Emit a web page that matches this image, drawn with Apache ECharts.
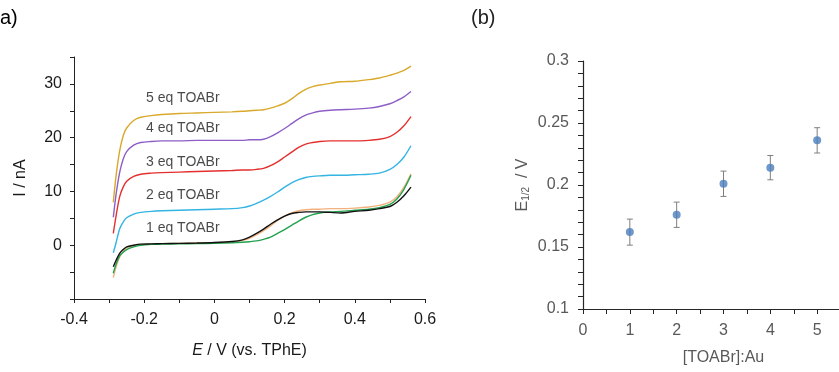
<!DOCTYPE html>
<html>
<head>
<meta charset="utf-8">
<script src="https://cdn.jsdelivr.net/npm/echarts@6/dist/echarts.min.js"></script>
<style>
html, body { margin: 0; padding: 0; background: #fff; }
#main { width: 839px; height: 372px; }
</style>
</head>
<body>
<div id="main"></div>
<script>
// panel a) potential axis (V vs. TPhE)
var potential = [-0.288, -0.28, -0.27, -0.26, -0.25, -0.23, -0.21, -0.18, -0.15, -0.1, -0.05, 0, 0.05, 0.08, 0.1, 0.12, 0.14, 0.16, 0.18, 0.2, 0.22, 0.24, 0.26, 0.28, 0.3, 0.33, 0.36, 0.4, 0.44, 0.47, 0.5, 0.52, 0.54, 0.56];

// currents in nA
var eq5 = [8.0, 13, 17.5, 20.3, 21.8, 23.2, 23.8, 24.1, 24.3, 24.5, 24.6, 24.7, 24.8, 24.9, 25.0, 25.1, 25.2, 25.5, 25.9, 26.4, 27.2, 28.2, 29.0, 29.5, 29.8, 30.1, 30.4, 30.5, 30.8, 31.1, 31.6, 32.0, 32.5, 33.3];
var eq4 = [5.2, 9.5, 13.5, 16.0, 17.4, 18.6, 19.1, 19.3, 19.4, 19.4, 19.5, 19.5, 19.5, 19.5, 19.6, 19.6, 19.7, 20.2, 20.9, 21.7, 22.6, 23.5, 24.2, 24.6, 24.9, 25.1, 25.2, 25.3, 25.5, 25.8, 26.3, 26.9, 27.6, 28.6];
var eq3 = [2.2, 5.5, 9.0, 10.8, 11.9, 12.8, 13.2, 13.4, 13.5, 13.6, 13.7, 13.8, 13.9, 14.0, 14.0, 14.1, 14.3, 14.8, 15.5, 16.4, 17.3, 18.2, 18.8, 19.1, 19.3, 19.4, 19.4, 19.4, 19.5, 19.7, 20.2, 21.0, 22.2, 23.9];
var eq2 = [-1.4, 0.5, 3.0, 4.3, 5.1, 5.8, 6.1, 6.3, 6.4, 6.5, 6.6, 6.7, 6.8, 7.0, 7.3, 7.8, 8.4, 9.1, 9.9, 10.8, 11.6, 12.2, 12.6, 12.8, 12.9, 13.0, 13.0, 13.1, 13.2, 13.4, 14.1, 15.0, 16.4, 18.5];
var eq1Black = [-4.0, -2.8, -1.5, -0.8, -0.3, 0.0, 0.2, 0.25, 0.3, 0.35, 0.4, 0.5, 0.7, 1.0, 1.5, 2.2, 3.0, 3.9, 4.7, 5.4, 5.9, 6.1, 6.2, 6.2, 6.2, 6.1, 6.0, 6.3, 6.5, 6.8, 7.2, 8.0, 9.2, 10.8];
var eq1Orange = [-6.0, -4.0, -2.2, -1.2, -0.5, -0.1, 0.1, 0.2, 0.3, 0.35, 0.4, 0.45, 0.6, 0.9, 1.3, 1.9, 2.7, 3.6, 4.6, 5.4, 6.0, 6.4, 6.6, 6.7, 6.7, 6.8, 6.8, 6.9, 7.1, 7.4, 8.0, 9.0, 10.8, 13.3];
var eq1Green = [-5.2, -3.5, -2.0, -1.3, -0.8, -0.3, 0.0, 0.15, 0.2, 0.25, 0.3, 0.35, 0.45, 0.55, 0.65, 0.8, 1.1, 1.5, 2.2, 2.9, 3.7, 4.5, 5.2, 5.7, 6.0, 6.2, 6.3, 6.5, 6.7, 7.0, 7.6, 8.6, 10.4, 13.0];

// curve labels
var curveLabels = ['5 eq TOABr', '4 eq TOABr', '3 eq TOABr', '2 eq TOABr', '1 eq TOABr'];
var labelX = [-0.195, -0.195, -0.195, -0.195, -0.195];
var labelY = [27.3, 21.7, 15.4, 9.3, 3.1];

// panel (b)
var ratio = [1, 2, 3, 4, 5];
var e12 = [0.162, 0.176, 0.201, 0.214, 0.236];
var e12Err = [0.0105, 0.0102, 0.0102, 0.0098, 0.0102];

function pairs(xs, ys) {
    var out = [];
    for (var i = 0; i < xs.length; i++) out.push([xs[i], ys[i]]);
    return out;
}

function curve(name, ys, color) {
    return {
        name: name,
        type: 'line',
        xAxisIndex: 0,
        yAxisIndex: 0,
        data: pairs(potential, ys),
        smooth: 0.3,
        showSymbol: false,
        symbol: 'none',
        lineStyle: { color: color, width: 1.4 },
        silent: true
    };
}

var labelData = [];
for (var i = 0; i < curveLabels.length; i++) {
    labelData.push({ value: [labelX[i], labelY[i]], name: curveLabels[i] });
}

var errData = [];
for (var j = 0; j < ratio.length; j++) {
    errData.push([ratio[j], e12[j], e12Err[j]]);
}

var textA = '#1a1a1a';
var textB = '#595959';

var myChart = echarts.init(document.getElementById('main'));
myChart.setOption({
    animation: false,
    backgroundColor: '#fff',
    title: [
        { text: 'a)', left: -5, top: 3, textStyle: { fontFamily: 'Liberation Sans', fontSize: 20, fontWeight: 'normal', color: '#000' } },
        { text: '(b)', left: 466, top: 3, textStyle: { fontFamily: 'Liberation Sans', fontSize: 20, fontWeight: 'normal', color: '#222' } }
    ],
    grid: [
        { left: 74, top: 57, width: 351, height: 242, outerBoundsMode: 'none', containLabel: false },
        { left: 583, top: 61, width: 281, height: 248, outerBoundsMode: 'none', containLabel: false }
    ],
    xAxis: [
        {
            gridIndex: 0, type: 'value', min: -0.4, max: 0.6, interval: 0.1,
            name: '{i|E} / V (vs. TPhE)', nameLocation: 'middle', nameGap: 44,
            nameTextStyle: { fontFamily: 'Liberation Sans', fontSize: 16, color: textA, rich: { i: { fontStyle: 'italic', fontFamily: 'Liberation Sans', fontSize: 16, color: textA } } },
            axisLine: { onZero: false, lineStyle: { color: '#222', width: 1 } },
            axisTick: { length: 4, lineStyle: { color: '#222' } },
            axisLabel: {
                margin: 13, fontFamily: 'Liberation Sans', fontSize: 16, color: textA,
                formatter: function (v) {
                    var k = Math.round(v * 10);
                    return k % 2 === 0 ? String(+(k / 10).toFixed(1)) : '';
                }
            },
            splitLine: { show: false }
        },
        {
            gridIndex: 1, type: 'value', min: 0, max: 6, interval: 0.5,
            name: '[TOABr]:Au', nameLocation: 'middle', nameGap: 41,
            nameTextStyle: { fontFamily: 'Liberation Sans', fontSize: 16, color: textB },
            axisLine: { onZero: false, lineStyle: { color: '#262626', width: 1.2 } },
            axisTick: { length: 5, lineStyle: { color: '#262626' } },
            axisLabel: {
                margin: 14, fontFamily: 'Liberation Sans', fontSize: 16, color: textB,
                formatter: function (v) {
                    return Math.abs(v - Math.round(v)) < 1e-6 ? String(Math.round(v)) : '';
                }
            },
            splitLine: { show: false }
        }
    ],
    yAxis: [
        {
            gridIndex: 0, type: 'value', min: -10, max: 35, interval: 5,
            name: 'I / nA', nameLocation: 'middle', nameGap: 45,
            nameTextStyle: { fontFamily: 'Liberation Sans', fontSize: 16, color: textA },
            axisLine: { onZero: false, lineStyle: { color: '#222', width: 1 } },
            axisTick: { length: 4, lineStyle: { color: '#222' } },
            axisLabel: {
                margin: 12, fontFamily: 'Liberation Sans', fontSize: 16, color: textA,
                formatter: function (v) {
                    return (v % 10 === 0 && v >= 0 && v <= 30) ? String(v) : '';
                }
            },
            splitLine: { show: false }
        },
        {
            gridIndex: 1, type: 'value', min: 0.1, max: 0.3, interval: 0.01,
            name: 'E{sub|1/2}  / V', nameLocation: 'middle', nameGap: 52,
            nameTextStyle: { fontFamily: 'Liberation Sans', fontSize: 16, color: textB, rich: { sub: { fontFamily: 'Liberation Sans', fontSize: 10, color: textB, verticalAlign: 'bottom', padding: [6, 0, 0, 0] } } },
            axisLine: { onZero: false, lineStyle: { color: '#262626', width: 1.2 } },
            axisTick: { length: 5, lineStyle: { color: '#262626' } },
            axisLabel: {
                margin: 14, fontFamily: 'Liberation Sans', fontSize: 16, color: textB,
                formatter: function (v) {
                    var k = Math.round(v * 100);
                    return k % 5 === 0 ? String(+(k / 100).toFixed(2)) : '';
                }
            },
            splitLine: { show: false }
        }
    ],
    series: [
        curve('5 eq', eq5, '#d9a92c'),
        curve('4 eq', eq4, '#8c5ec6'),
        curve('3 eq', eq3, '#e3302e'),
        curve('2 eq', eq2, '#33b4e2'),
        curve('1 eq orange', eq1Orange, '#f2b27e'),
        curve('1 eq green', eq1Green, '#22a24f'),
        curve('1 eq black', eq1Black, '#111111'),
        {
            name: 'labels',
            type: 'scatter',
            xAxisIndex: 0,
            yAxisIndex: 0,
            symbolSize: 0,
            silent: true,
            data: labelData,
            label: {
                show: true, position: 'right', distance: 0,
                formatter: '{b}',
                fontFamily: 'Liberation Sans', fontSize: 14, color: '#1a1a1a'
            }
        },
        {
            name: 'error',
            type: 'custom',
            xAxisIndex: 1,
            yAxisIndex: 1,
            silent: true,
            data: errData,
            renderItem: function (params, api) {
                var x = api.value(0), y = api.value(1), e = api.value(2);
                var top = api.coord([x, y + e]);
                var bot = api.coord([x, y - e]);
                var w = 3;
                var st = { stroke: '#7f7f7f', lineWidth: 1 };
                return {
                    type: 'group',
                    children: [
                        { type: 'line', shape: { x1: top[0], y1: top[1], x2: bot[0], y2: bot[1] }, style: st },
                        { type: 'line', shape: { x1: top[0] - w, y1: top[1], x2: top[0] + w, y2: top[1] }, style: st },
                        { type: 'line', shape: { x1: bot[0] - w, y1: bot[1], x2: bot[0] + w, y2: bot[1] }, style: st }
                    ]
                };
            },
            z: 2
        },
        {
            name: 'E1/2',
            type: 'scatter',
            xAxisIndex: 1,
            yAxisIndex: 1,
            symbol: 'circle',
            symbolSize: 8,
            itemStyle: { color: '#4a7ebb' },
            data: pairs(ratio, e12),
            z: 3
        }
    ]
});
</script>
</body>
</html>
